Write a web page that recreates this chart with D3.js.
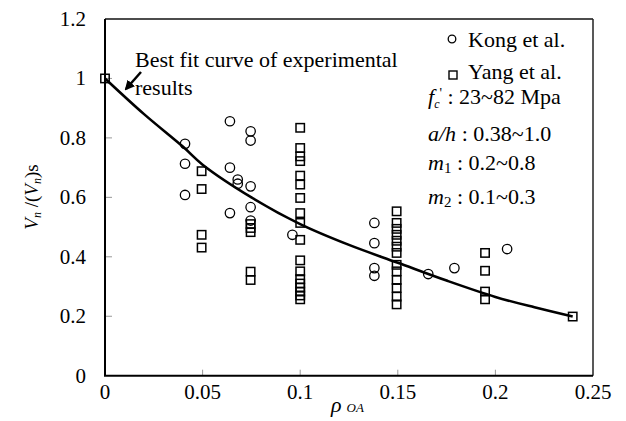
<!DOCTYPE html>
<html>
<head>
<meta charset="utf-8" />
<script src="https://cdn.jsdelivr.net/npm/d3@7"></script>
<style>
html, body { margin: 0; padding: 0; background: #fff; }
svg text { font-family: "Liberation Serif", "Times New Roman", serif; fill: #000; }
.tick-label { font-size: 21px; }
.note { font-size: 22px; }
</style>
</head>
<body>
<svg id="chart" width="626" height="421"></svg>
<script>
// values
var xTicks = [0, 0.05, 0.1, 0.15, 0.2, 0.25];
var xTickLabels = ["0", "0.05", "0.1", "0.15", "0.2", "0.25"];
var yTicks = [0, 0.2, 0.4, 0.6, 0.8, 1, 1.2];
var yTickLabels = ["0", "0.2", "0.4", "0.6", "0.8", "1", "1.2"];

// Kong et al. (circles)
var kongPts = [
  [0.041, 0.780], [0.041, 0.713], [0.041, 0.608],
  [0.064, 0.856], [0.064, 0.700], [0.064, 0.547],
  [0.068, 0.660], [0.068, 0.646],
  [0.0746, 0.822], [0.0746, 0.791], [0.0746, 0.637], [0.0746, 0.567], [0.0746, 0.522],
  [0.096, 0.474],
  [0.138, 0.514], [0.138, 0.446], [0.138, 0.362], [0.138, 0.336],
  [0.1656, 0.342], [0.179, 0.362], [0.206, 0.426]
];

// Yang et al. (squares)
var yangPts = [
  [0, 1.0],
  [0.0495, 0.688], [0.0495, 0.628], [0.0495, 0.474], [0.0495, 0.431],
  [0.0746, 0.510], [0.0746, 0.497], [0.0746, 0.483], [0.0746, 0.350], [0.0746, 0.322],
  [0.1, 0.834], [0.1, 0.766], [0.1, 0.738], [0.1, 0.722], [0.1, 0.673], [0.1, 0.643],
  [0.1, 0.598], [0.1, 0.547], [0.1, 0.514], [0.1, 0.457], [0.1, 0.388], [0.1, 0.351],
  [0.1, 0.325], [0.1, 0.310], [0.1, 0.296], [0.1, 0.283], [0.1, 0.270], [0.1, 0.257],
  [0.1494, 0.553], [0.1494, 0.514], [0.1494, 0.494], [0.1494, 0.474], [0.1494, 0.454],
  [0.1494, 0.434], [0.1494, 0.413], [0.1494, 0.373], [0.1494, 0.351], [0.1494, 0.322],
  [0.1494, 0.295], [0.1494, 0.266], [0.1494, 0.240],
  [0.1947, 0.413], [0.1947, 0.353], [0.1947, 0.283], [0.1947, 0.257],
  [0.2396, 0.199]
];

// best fit curve, traced
var fitCurve = [
  [0, 1.0], [0.02, 0.88], [0.04, 0.77], [0.05, 0.71], [0.075, 0.60],
  [0.1, 0.51], [0.125, 0.44], [0.15, 0.38], [0.175, 0.32], [0.2, 0.265],
  [0.22, 0.23], [0.2396, 0.199]
];

var svg = d3.select("#chart");

var x = d3.scaleLinear().domain([0, 0.25]).range([105, 593]);
var y = d3.scaleLinear().domain([0, 1.2]).range([375.7, 19]);

// small grey ticks inside the frame
svg.append("g").selectAll("line").data(yTicks.slice(1, -1)).enter().append("line")
  .attr("x1", x(0)).attr("x2", x(0) + 7)
  .attr("y1", function(d) { return y(d); }).attr("y2", function(d) { return y(d); })
  .attr("stroke", "#999").attr("stroke-width", 1);
svg.append("g").selectAll("line").data(xTicks.slice(1, -1)).enter().append("line")
  .attr("x1", function(d) { return x(d); }).attr("x2", function(d) { return x(d); })
  .attr("y1", y(0)).attr("y2", y(0) - 6)
  .attr("stroke", "#999").attr("stroke-width", 1);

// frame
svg.append("line").attr("x1", x(0)).attr("x2", x(0.25)).attr("y1", y(1.2)).attr("y2", y(1.2))
  .attr("stroke", "#111").attr("stroke-width", 1.5);
svg.append("line").attr("x1", x(0.25)).attr("x2", x(0.25)).attr("y1", y(1.2)).attr("y2", y(0))
  .attr("stroke", "#222").attr("stroke-width", 1.5);
svg.append("line").attr("x1", x(0)).attr("x2", x(0)).attr("y1", y(1.2)).attr("y2", y(0))
  .attr("stroke", "#000").attr("stroke-width", 2);
svg.append("line").attr("x1", x(0) - 1).attr("x2", x(0.25)).attr("y1", y(0)).attr("y2", y(0))
  .attr("stroke", "#000").attr("stroke-width", 2);

// tick labels
svg.append("g").selectAll("text").data(xTicks).enter().append("text")
  .attr("class", "tick-label")
  .attr("x", function(d) { return x(d); })
  .attr("y", 399)
  .attr("text-anchor", "middle")
  .text(function(d, i) { return xTickLabels[i]; });
svg.append("g").selectAll("text").data(yTicks).enter().append("text")
  .attr("class", "tick-label")
  .attr("x", 86)
  .attr("y", function(d) { return y(d) + 7; })
  .attr("text-anchor", "end")
  .text(function(d, i) { return yTickLabels[i]; });

// axis titles
var xt = svg.append("text").attr("x", 331).attr("y", 412).style("font-style", "italic");
xt.append("tspan").style("font-size", "22px").text("\u03C1");
xt.append("tspan").attr("dx", 5).style("font-size", "13px").text("OA");

var yt = svg.append("text").attr("transform", "translate(38,197) rotate(-90)")
  .attr("text-anchor", "middle").style("font-size", "19px");
yt.append("tspan").style("font-style", "italic").text("V");
yt.append("tspan").attr("dy", 3).style("font-size", "12px").style("font-style", "italic").text("n");
yt.append("tspan").attr("dy", -3).text(" /(");
yt.append("tspan").style("font-style", "italic").text("V");
yt.append("tspan").attr("dy", 3).style("font-size", "12px").style("font-style", "italic").text("n");
yt.append("tspan").attr("dy", -3).text(")s");

// fit curve
var line = d3.line()
  .x(function(d) { return x(d[0]); })
  .y(function(d) { return y(d[1]); })
  .curve(d3.curveCatmullRom);
svg.append("path").datum(fitCurve)
  .attr("d", line)
  .attr("fill", "none").attr("stroke", "#000").attr("stroke-width", 2.6);

// markers
svg.append("g").selectAll("circle").data(kongPts).enter().append("circle")
  .attr("cx", function(d) { return x(d[0]); })
  .attr("cy", function(d) { return y(d[1]); })
  .attr("r", 4.7)
  .attr("fill", "none").attr("stroke", "#000").attr("stroke-width", 1.3);
svg.append("g").selectAll("rect").data(yangPts).enter().append("rect")
  .attr("x", function(d) { return x(d[0]) - 4.2; })
  .attr("y", function(d) { return y(d[1]) - 4.2; })
  .attr("width", 8.4).attr("height", 8.4)
  .attr("fill", "none").attr("stroke", "#000").attr("stroke-width", 1.5);

// annotation
svg.append("text").attr("class", "note").attr("x", 135).attr("y", 67).text("Best fit curve of experimental");
svg.append("text").attr("class", "note").attr("x", 135).attr("y", 95).text("results");
svg.append("defs").append("marker")
  .attr("id", "head").attr("viewBox", "0 0 10 10").attr("refX", 8).attr("refY", 5)
  .attr("markerWidth", 4).attr("markerHeight", 4).attr("orient", "auto")
  .append("path").attr("d", "M0,0 L10,5 L0,10 z").attr("fill", "#000");
svg.append("line").attr("x1", 141).attr("y1", 72).attr("x2", 126).attr("y2", 89)
  .attr("stroke", "#000").attr("stroke-width", 2.5).attr("marker-end", "url(#head)");

// legend
svg.append("circle").attr("cx", 452).attr("cy", 39).attr("r", 3.8)
  .attr("fill", "none").attr("stroke", "#000").attr("stroke-width", 1.3);
svg.append("text").attr("class", "note").attr("x", 468).attr("y", 47).text("Kong et al.");
svg.append("rect").attr("x", 449).attr("y", 71).attr("width", 8).attr("height", 8)
  .attr("fill", "none").attr("stroke", "#000").attr("stroke-width", 1.4);
svg.append("text").attr("class", "note").attr("x", 468).attr("y", 79).text("Yang et al.");

var f1 = svg.append("text").attr("class", "note").attr("x", 428).attr("y", 104);
f1.append("tspan").style("font-style", "italic").text("f");
f1.append("tspan").attr("dy", 4).style("font-size", "12px").style("font-style", "italic").text("c");
f1.append("tspan").attr("dy", -10).style("font-size", "14px").text("'");
f1.append("tspan").attr("dy", 6).text(" : 23~82 Mpa");

var f2 = svg.append("text").attr("class", "note").attr("x", 428).attr("y", 141);
f2.append("tspan").style("font-style", "italic").text("a/h");
f2.append("tspan").text("  : 0.38~1.0");

var f3 = svg.append("text").attr("class", "note").attr("x", 428).attr("y", 170);
f3.append("tspan").style("font-style", "italic").text("m");
f3.append("tspan").attr("dy", 3).style("font-size", "15px").text("1");
f3.append("tspan").attr("dy", -3).text(" : 0.2~0.8");

var f4 = svg.append("text").attr("class", "note").attr("x", 428).attr("y", 204);
f4.append("tspan").style("font-style", "italic").text("m");
f4.append("tspan").attr("dy", 3).style("font-size", "15px").text("2");
f4.append("tspan").attr("dy", -3).text(" : 0.1~0.3");
</script>
</body>
</html>
